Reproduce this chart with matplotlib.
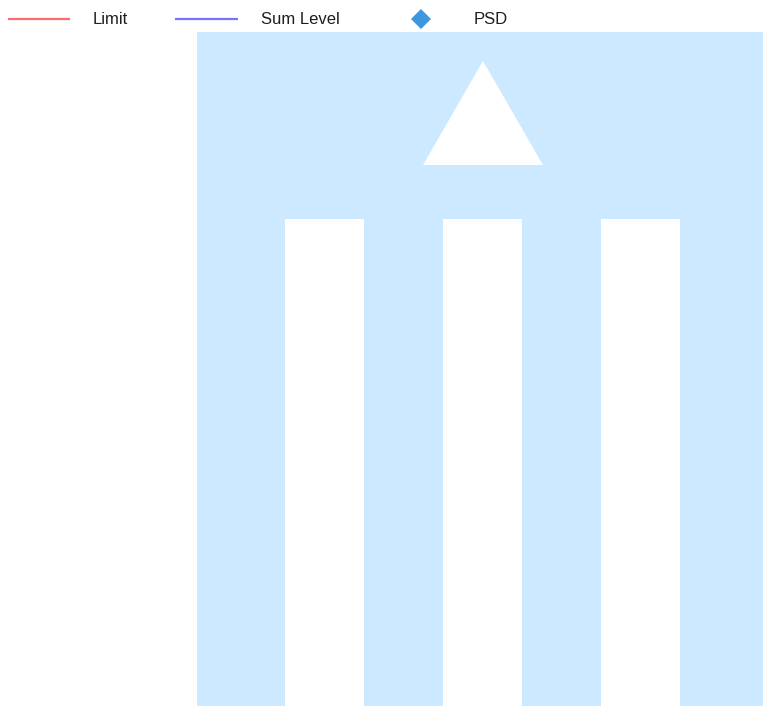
import matplotlib
matplotlib.use("Agg")
import matplotlib.pyplot as plt
from matplotlib.patches import Rectangle, Polygon

# Legend entries (chart has no data points; only the empty-state placeholder)
series_names = ["Limit", "Sum Level", "PSD"]
series_colors = ["#ff6b6b", "#7474ff", "#3d97de"]
series_kinds = ["line", "line", "diamond"]

placeholder_color = "#cde9ff"

W, H = 763, 706
fig = plt.figure(figsize=(W / 100, H / 100), dpi=100)
ax = fig.add_axes([0, 0, 1, 1])
ax.set_xlim(0, W)
ax.set_ylim(H, 0)
ax.axis("off")

# Legend row
legend_y = 19
sample_x = [(8, 70), (175, 238), (421, 421)]
label_x = [93, 261, 474]
for name, color, kind, (x0, x1), lx in zip(series_names, series_colors, series_kinds, sample_x, label_x):
    if kind == "line":
        ax.plot([x0, x1], [legend_y, legend_y], color=color, lw=1.6, solid_capstyle="butt")
    else:
        ax.plot([x0], [legend_y], marker="D", color=color, markersize=10, markeredgewidth=0)
    ax.text(lx, legend_y + 0.5, name, fontsize=12, family="Liberation Sans",
            va="center", ha="left", color="#1e1e1e")

# Empty-state placeholder graphic
ax.add_patch(Rectangle((197, 32), W - 197, H - 32, facecolor=placeholder_color, edgecolor="none"))
ax.add_patch(Polygon([(483, 61), (423, 165), (543, 165)], closed=True, facecolor="white", edgecolor="none"))
for bx in [285, 443, 601]:
    ax.add_patch(Rectangle((bx, 219), 79, H - 219, facecolor="white", edgecolor="none"))

fig.savefig("out.png", dpi=100)
